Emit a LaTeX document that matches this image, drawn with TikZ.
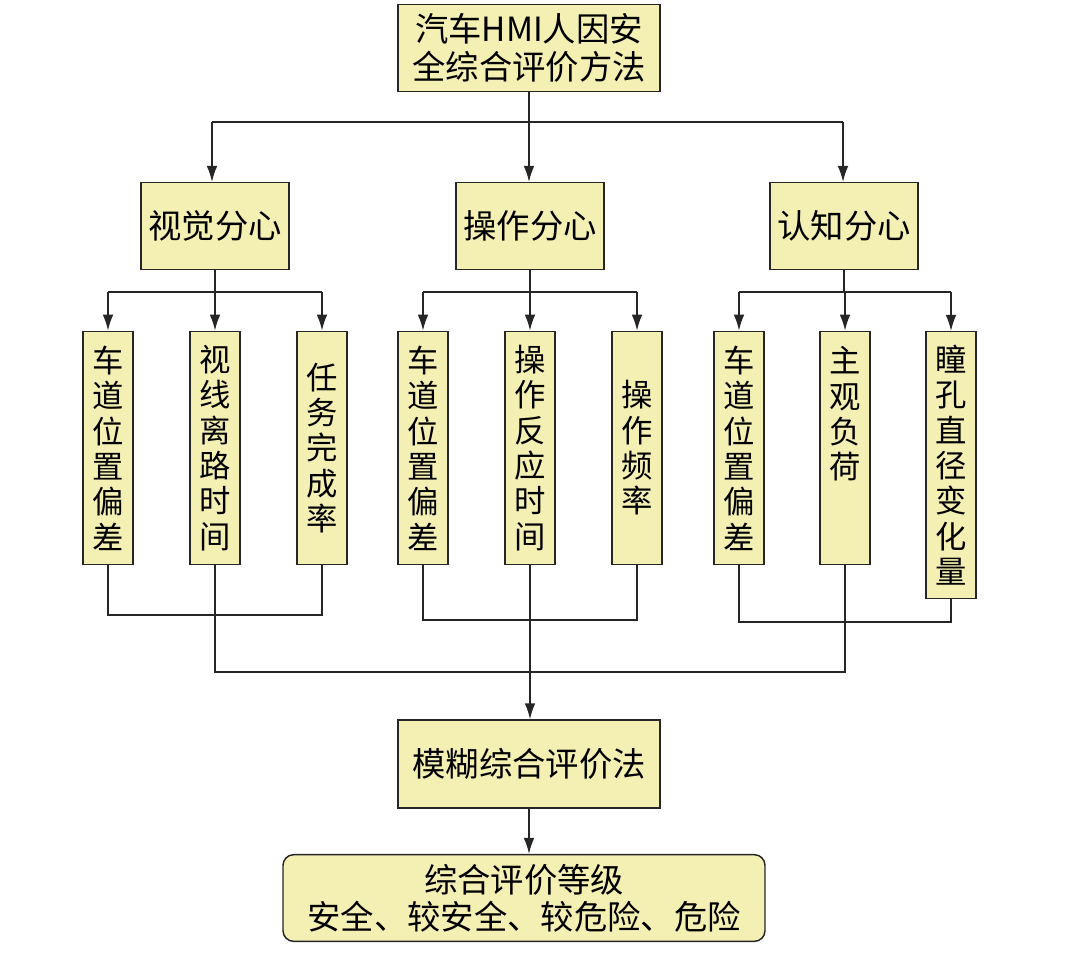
\documentclass[tikz,border=0pt]{standalone}
\usepackage{fontspec}
\newfontfamily\cjk{Noto Sans CJK SC}
\usetikzlibrary{arrows.meta}
\definecolor{boxfill}{HTML}{F4F0B4}
\begin{document}
\begin{tikzpicture}[x=0.75pt,y=-0.75pt,
  box/.style={draw=black!85,line width=1.1pt,fill=boxfill,inner sep=0pt,font=\cjk\fontsize{25}{28}\selectfont,align=center},
  leaf/.style={box,minimum width=37.5pt,minimum height=175pt,font=\cjk\fontsize{23.5}{26.5}\selectfont},
  ln/.style={line width=1.1pt,black!85},
  ar/.style={ln,-{Latex[length=12pt,width=8pt]}}]
\useasboundingbox (0,0) rectangle (1080,953);
\node[box,minimum width=196.5pt,minimum height=65pt] (top) at (529,48) {汽车HMI人因安\\全综合评价方法};
\node[box,minimum width=111pt,minimum height=65pt] (v) at (215,226) {视觉分心};
\node[box,minimum width=111pt,minimum height=65pt] (o) at (530,226) {操作分心};
\node[box,minimum width=111pt,minimum height=65pt] (c) at (844,226) {认知分心};
\node[leaf] (v1) at (108,448) {车\\道\\位\\置\\偏\\差};
\node[leaf] (v2) at (215,448) {视\\线\\离\\路\\时\\间};
\node[leaf] (v3) at (322,448) {任\\务\\完\\成\\率};
\node[leaf] (o1) at (423,448) {车\\道\\位\\置\\偏\\差};
\node[leaf] (o2) at (530,448) {操\\作\\反\\应\\时\\间};
\node[leaf] (o3) at (637,448) {操\\作\\频\\率};
\node[leaf] (c1) at (739,448) {车\\道\\位\\置\\偏\\差};
\node[leaf] (c2) at (845,448) {主\\观\\负\\荷\\\mbox{}\\\mbox{}};
\node[leaf,minimum height=200pt] (c3) at (951,465) {瞳\\孔\\直\\径\\变\\化\\量};
\node[box,minimum width=196.5pt,minimum height=66pt] (fz) at (529,764) {模糊综合评价法};
\node[box,rounded corners=8pt,minimum width=361.5pt,minimum height=65pt] (res) at (524,898) {综合评价等级\\安全、较安全、较危险、危险};
% top fan
\coordinate (h1) at (529,122);
\coordinate (hl) at (212,122);
\coordinate (hr) at (843,122);
\draw[ln] (top.south) -- (h1);
\draw[ln] (hl) -- (hr);
\draw[ar] (hl) -- (v.north -| hl);
\draw[ar] (h1) -- (o.north -| h1);
\draw[ar] (hr) -- (c.north -| hr);
% sub fans
\foreach \p/\a/\b/\cc in {v/v1/v2/v3,o/o1/o2/o3,c/c1/c2/c3}{
  \draw[ln] (\p.south) -- (\p.south |- 0,292);
  \draw[ln] (\a.north |- 0,292) -- (\cc.north |- 0,292);
  \draw[ar] (\a.north |- 0,292) -- (\a.north);
  \draw[ar] (\b.north |- 0,292) -- (\b.north);
  \draw[ar] (\cc.north |- 0,292) -- (\cc.north);
}
% bottom collection
\draw[ln] (v1.south) -- (108,615) -- (322,615) -- (v3.south);
\draw[ln] (o1.south) -- (423,620) -- (637,620) -- (o3.south);
\draw[ln] (c1.south) -- (739,622) -- (951,622) -- (c3.south);
\draw[ln] (v2.south) -- (215,672) -- (845,672) -- (c2.south);
\draw[ar] (o2.south) -- (fz.north -| o2.south);
\draw[ar] (fz.south) -- (res.north -| fz.south);
\end{tikzpicture}
\end{document}
